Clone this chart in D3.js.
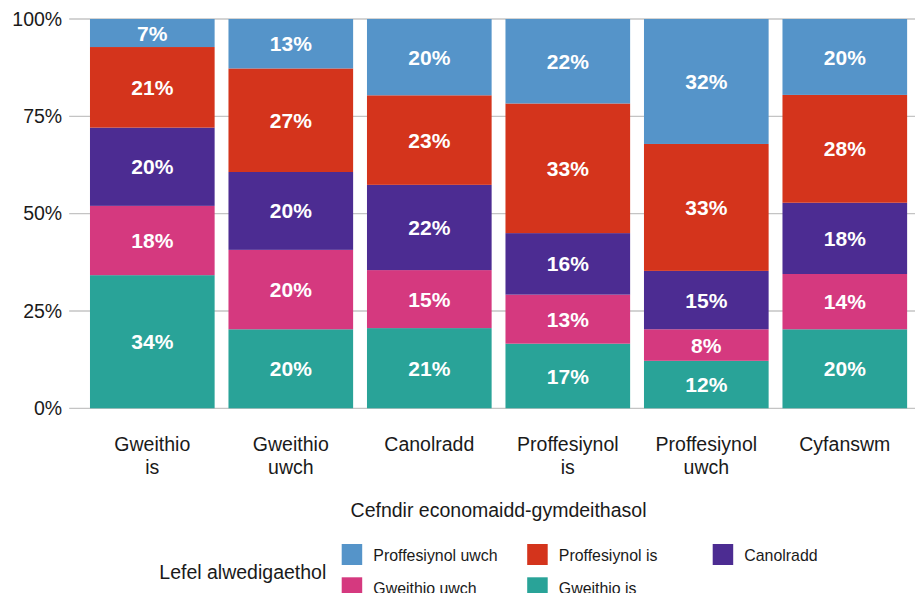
<!DOCTYPE html>
<html>
<head>
<meta charset="utf-8">
<script src="https://cdn.jsdelivr.net/npm/d3@7"></script>
<style>
	html, body { margin: 0; padding: 0; background: #ffffff; overflow: hidden; }
	svg { display: block; font-family: "Liberation Sans", Arial, sans-serif; }
</style>
</head>
<body>
<div id="chart"></div>
<script>
var categories = ["Gweithio is", "Gweithio uwch", "Canolradd", "Proffesiynol is", "Proffesiynol uwch", "Cyfanswm"];
var categoryLines = [["Gweithio", "is"], ["Gweithio", "uwch"], ["Canolradd"], ["Proffesiynol", "is"], ["Proffesiynol", "uwch"], ["Cyfanswm"]];

var seriesNames = ["Gweithio is", "Gweithio uwch", "Canolradd", "Proffesiynol is", "Proffesiynol uwch"];
var gweithioIs = [34.2, 20.3, 20.6, 16.6, 12.2, 20.3];
var gweithioUwch = [17.8, 20.4, 14.9, 12.6, 8.1, 14.2];
var canolradd = [20.1, 20.0, 21.9, 15.8, 15.0, 18.3];
var proffesiynolIs = [20.7, 26.6, 23.0, 33.3, 32.6, 27.7];
var proffesiynolUwch = [7.2, 12.7, 19.6, 21.7, 32.1, 19.5];

var yTicks = [0, 25, 50, 75, 100];
var legendOrder = ["Proffesiynol uwch", "Proffesiynol is", "Canolradd", "Gweithio uwch", "Gweithio is"];

var colours = {
	"Gweithio is": "#29a398",
	"Gweithio uwch": "#d5397f",
	"Canolradd": "#4c2c92",
	"Proffesiynol is": "#d4341c",
	"Proffesiynol uwch": "#5594c9"
};

function buildRows() {
	var seriesValues = [gweithioIs, gweithioUwch, canolradd, proffesiynolIs, proffesiynolUwch];
	return categories.map(function (c, i) {
		var row = { category: c };
		seriesNames.forEach(function (s, j) { row[s] = seriesValues[j][i]; });
		return row;
	});
}

function drawChart() {
	var width = 915, height = 593;
	var svg = d3.select("#chart").append("svg").attr("width", width).attr("height", height);

	var x = d3.scaleBand().domain(categories).range([69.2, 927.9])
		.paddingInner(0.1).paddingOuter(0.15);
	var y = d3.scaleLinear().domain([0, 100]).range([408.3, 19]);

	// grid lines
	svg.append("g").selectAll("line").data(yTicks).join("line")
		.attr("x1", 69.2).attr("x2", width)
		.attr("y1", function (d) { return y(d); }).attr("y2", function (d) { return y(d); })
		.attr("stroke", "#c4c4c4").attr("stroke-width", 1.3);

	// y labels
	var yAxis = d3.axisLeft(y).tickValues(yTicks).tickSize(0).tickPadding(7)
		.tickFormat(function (d) { return d + "%"; });
	var gy = svg.append("g").attr("transform", "translate(69.2,0)").call(yAxis);
	gy.select(".domain").remove();
	gy.selectAll("text").attr("font-size", 19.5).attr("fill", "#1a1a1a")
		.attr("font-family", "Liberation Sans, Arial, sans-serif");

	var stacked = d3.stack().keys(seriesNames)(buildRows());

	var layers = svg.append("g").selectAll("g").data(stacked).join("g")
		.attr("fill", function (d) { return colours[d.key]; });
	layers.selectAll("rect").data(function (d) { return d; }).join("rect")
		.attr("x", function (d) { return x(d.data.category); })
		.attr("width", x.bandwidth())
		.attr("y", function (d) { return y(d[1]); })
		.attr("height", function (d) { return y(d[0]) - y(d[1]); });

	// value labels
	var fmt = d3.format(".0f");
	layers.selectAll("text").data(function (d) { return d; }).join("text")
		.attr("x", function (d) { return x(d.data.category) + x.bandwidth() / 2; })
		.attr("y", function (d) { return (y(d[0]) + y(d[1])) / 2; })
		.attr("dy", "0.36em")
		.attr("text-anchor", "middle")
		.attr("fill", "#ffffff").attr("font-weight", "bold").attr("font-size", 21)
		.text(function (d) { return fmt(d[1] - d[0]) + "%"; });

	// x labels
	var xl = svg.append("g").selectAll("text").data(categories).join("text")
		.attr("text-anchor", "middle").attr("font-size", 19.5).attr("fill", "#1a1a1a")
		.attr("x", function (d) { return x(d) + x.bandwidth() / 2; })
		.attr("y", 450.7);
	xl.selectAll("tspan").data(function (d, i) { return categoryLines[i]; }).join("tspan")
		.attr("x", function () { var c = d3.select(this.parentNode).datum(); return x(c) + x.bandwidth() / 2; })
		.attr("dy", function (d, i) { return i === 0 ? 0 : 23.3; })
		.text(function (d) { return d; });

	svg.append("text").attr("x", (69.2 + 927.9) / 2).attr("y", 516.7)
		.attr("text-anchor", "middle").attr("font-size", 19.5).attr("fill", "#1a1a1a")
		.text("Cefndir economaidd-gymdeithasol");

	// legend
	svg.append("text").attr("x", 159.3).attr("y", 579.3)
		.attr("font-size", 19.5).attr("fill", "#1a1a1a").text("Lefel alwedigaethol");

	var legend = svg.append("g").selectAll("g").data(legendOrder).join("g")
		.attr("transform", function (d, i) {
			return "translate(" + (341.7 + (i % 3) * 185.5) + "," + (544 + Math.floor(i / 3) * 33.3) + ")";
		});
	legend.append("rect").attr("width", 20.5).attr("height", 21)
		.attr("fill", function (d) { return colours[d]; });
	legend.append("text").attr("x", 31.6).attr("y", 16.7)
		.attr("font-size", 15.9).attr("fill", "#1a1a1a")
		.text(function (d) { return d; });
}

drawChart();
</script>
</body>
</html>
